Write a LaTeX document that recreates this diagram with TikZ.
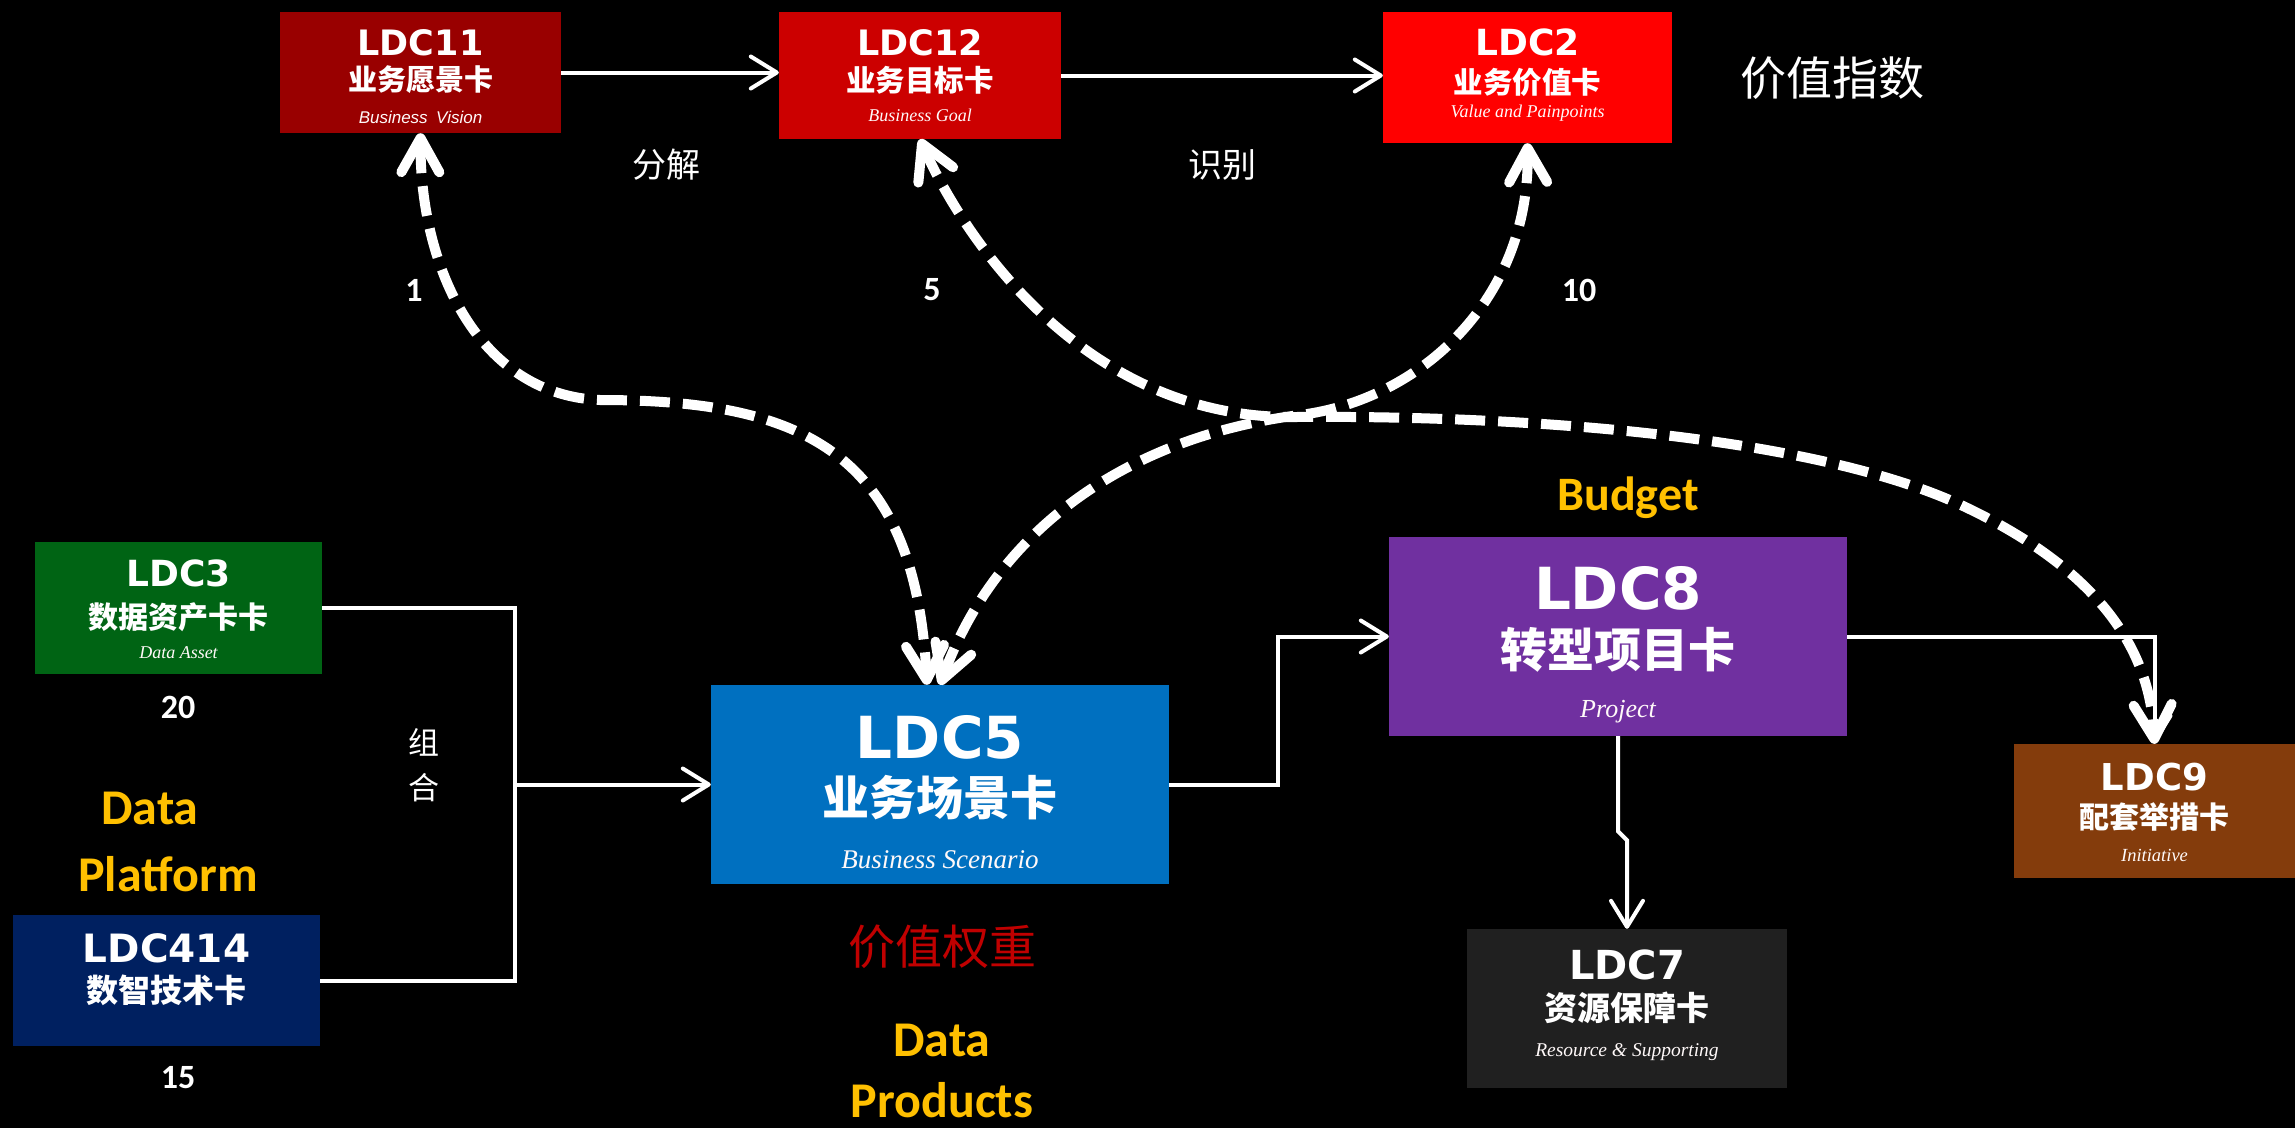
\documentclass[tikz,border=0pt]{standalone}
\usepackage{fontspec}
\usetikzlibrary{arrows.meta}
\newfontfamily\ttlf{DejaVu Sans}
\newfontfamily\cjkf{Noto Sans CJK SC}
\newfontfamily\serf{Liberation Serif}
\newfontfamily\sanf{Liberation Sans}
\newfontfamily\calf{Carlito}
\newcommand\fsz[1]{\fontsize{#1}{#1}\selectfont}
\definecolor{cEleven}{HTML}{990000}
\definecolor{cTwelve}{HTML}{CC0000}
\definecolor{cTwo}{HTML}{FF0000}
\definecolor{cThree}{HTML}{006414}
\definecolor{cFour}{HTML}{002060}
\definecolor{cFive}{HTML}{0070C0}
\definecolor{cEight}{HTML}{7030A0}
\definecolor{cSeven}{HTML}{202020}
\definecolor{cNine}{HTML}{843C0C}
\definecolor{gold}{HTML}{FFC000}
\definecolor{wred}{HTML}{C00000}
\begin{document}
\begin{tikzpicture}[x=1pt,y=-1pt,
  card/.style={draw=none, inner sep=0pt},
  txt/.style={text=white, inner sep=0pt, anchor=center},
  subt/.style={text=white!90!pink, inner sep=0pt, anchor=center},
  sarr/.style={draw=white, line width=4pt, -{Straight Barb[length=26pt,width=32pt,round]}},
  sline/.style={draw=white, line width=4pt},
  dcurve/.style={draw=white, line width=10pt, dash pattern=on 30pt off 13pt,
     {Straight Barb[length=34pt,width=38pt,round]}-{Straight Barb[length=34pt,width=38pt,round]}}
]
\useasboundingbox (0,0) rectangle (2295,1128);
\fill[black] (0,0) rectangle (2295,1128);

% ---- top row
\node[card, fill=cEleven, minimum width=281pt, minimum height=121pt] (ldc11) at (420.5,72.5) {};
\node[txt, font=\ttlf\bfseries\fsz{35}] (ldc11a) at (420.5,43) {LDC11};
\node[txt, font=\cjkf\bfseries\fsz{29}] (ldc11b) at (420.5,80) {业务愿景卡};
\node[subt, font=\sanf\itshape\fsz{17}] (ldc11c) at (420.5,117) {Business\enspace Vision};

\node[card, fill=cTwelve, minimum width=282pt, minimum height=127pt] (ldc12) at (920,75.5) {};
\node[txt, font=\ttlf\bfseries\fsz{35}] (ldc12a) at (920,43) {LDC12};
\node[txt, font=\cjkf\bfseries\fsz{29.5}] (ldc12b) at (920,80) {业务目标卡};
\node[subt, font=\serf\itshape\fsz{18}] (ldc12c) at (920,115) {Business Goal};

\node[card, fill=cTwo, minimum width=289pt, minimum height=131pt] (ldc2) at (1527.5,77.5) {};
\node[txt, font=\ttlf\bfseries\fsz{36}] (ldc2a) at (1527.5,42) {LDC2};
\node[txt, font=\cjkf\bfseries\fsz{29.5}] (ldc2b) at (1527.5,82) {业务价值卡};
\node[subt, font=\serf\itshape\fsz{18}] (ldc2c) at (1527.5,113) {Value and Painpoints};

\node[txt, font=\cjkf\fsz{46}] (vindex) at (1832,78) {价值指数};
\node[txt, font=\cjkf\fsz{34}] (fenjie) at (666,165) {分解};
\node[txt, font=\cjkf\fsz{34}] (shibie) at (1222,165) {识别};
\node[txt, font=\calf\bfseries\fsz{34}] (n1) at (414,290) {1};
\node[txt, font=\calf\bfseries\fsz{34}] (n5) at (932,290) {5};
\node[txt, font=\calf\bfseries\fsz{34}] (n10) at (1579,290) {10};

% ---- left column
\node[card, fill=cThree, minimum width=287pt, minimum height=132pt] (ldc3) at (178.5,608) {};
\node[txt, font=\ttlf\bfseries\fsz{36}] (ldc3a) at (178.5,573) {LDC3};
\node[txt, font=\cjkf\bfseries\fsz{30}] (ldc3b) at (178.5,617) {数据资产卡卡};
\node[subt, font=\serf\itshape\fsz{18}] (ldc3c) at (178.5,653) {Data Asset};
\node[txt, font=\calf\bfseries\fsz{34}] (n20) at (178,707) {20};

\node[txt, font=\calf\bfseries\fsz{50}, text=gold] (dpa) at (150,808) {Data};
\node[txt, font=\calf\bfseries\fsz{50}, text=gold] (dpb) at (168,874) {Platform};

\node[card, fill=cFour, minimum width=307pt, minimum height=131pt] (ldc414) at (166.5,980.5) {};
\node[txt, font=\ttlf\bfseries\fsz{39}] (ldc414a) at (166.5,948) {LDC414};
\node[txt, font=\cjkf\bfseries\fsz{32}] (ldc414b) at (166.5,990) {数智技术卡};
\node[txt, font=\calf\bfseries\fsz{34}] (n15) at (178,1078) {15};

\node[txt, font=\cjkf\fsz{31}, align=center] (zuhe) at (424,765) {组\\[14pt]合};

% ---- centre
\node[card, fill=cFive, minimum width=458pt, minimum height=199pt] (ldc5) at (940,784.5) {};
\node[txt, font=\ttlf\bfseries\fsz{58}] (ldc5a) at (940,737) {LDC5};
\node[txt, font=\cjkf\bfseries\fsz{47}] (ldc5b) at (940,798) {业务场景卡};
\node[subt, font=\serf\itshape\fsz{27}] (ldc5c) at (940,860) {Business Scenario};
\node[txt, font=\cjkf\fsz{47}, text=wred] (weight) at (942,947) {价值权重};
\node[txt, font=\calf\bfseries\fsz{50}, text=gold] (dpc) at (942,1040) {Data};
\node[txt, font=\calf\bfseries\fsz{50}, text=gold] (dpd) at (942,1100) {Products};

% ---- right
\node[txt, font=\calf\bfseries\fsz{48}, text=gold] (budget) at (1628,498) {Budget};
\node[card, fill=cEight, minimum width=458pt, minimum height=199pt] (ldc8) at (1618,636.5) {};
\node[txt, font=\ttlf\bfseries\fsz{58}] (ldc8a) at (1618,588) {LDC8};
\node[txt, font=\cjkf\bfseries\fsz{47}] (ldc8b) at (1618,650) {转型项目卡};
\node[subt, font=\serf\itshape\fsz{26}] (ldc8c) at (1618,712) {Project};

\node[card, fill=cSeven, minimum width=320pt, minimum height=159pt] (ldc7) at (1627,1008.5) {};
\node[txt, font=\ttlf\bfseries\fsz{40}] (ldc7a) at (1627,965) {LDC7};
\node[txt, font=\cjkf\bfseries\fsz{33}] (ldc7b) at (1627,1008) {资源保障卡};
\node[subt, font=\serf\itshape\fsz{19.5}] (ldc7c) at (1627,1052) {Resource \& Supporting};

\node[card, fill=cNine, minimum width=281pt, minimum height=134pt] (ldc9) at (2154.5,811) {};
\node[txt, font=\ttlf\bfseries\fsz{37}] (ldc9a) at (2154.5,777) {LDC9};
\node[txt, font=\cjkf\bfseries\fsz{30}] (ldc9b) at (2154.5,817) {配套举措卡};
\node[subt, font=\serf\itshape\fsz{18.5}] (ldc9c) at (2154.5,855) {Initiative};

% ---- solid connectors
\draw[sarr] (ldc11.east) -- (ldc11.east -| ldc12.west);
\draw[sarr] (ldc12.east) -- (ldc12.east -| ldc2.west);
\coordinate (join) at (515,784.5);
\draw[sline] (ldc3.east) -| (join);
\draw[sline] (ldc414.east) -| (join);
\draw[sarr] (join) -- (ldc5.west);
\draw[sarr] (ldc5.east) -- ++(109,0) |- (ldc8.west);
\draw[sarr] (ldc8.east) -| (ldc9.north);
\draw[sarr] (ldc8.south) -- ++(0,95) -- ++(9,9) -- (ldc7.north);

% ---- dashed curves
\draw[dcurve] (ldc11.south) .. controls (420,270) and (480,395) .. (600,400)
   .. controls (800,400) and (915,450) .. ([xshift=-13pt]ldc5.north);
\draw[dcurve] (ldc2.south) .. controls (1530,300) and (1420,400) .. (1300,415)
   .. controls (1140,435) and (1000,520) .. (ldc5.north);
\draw[dcurve] (ldc12.south) .. controls (960,230) and (1080,420) .. (1296,417)
   .. controls (1550,415) and (1820,440) .. (1961,505)
   .. controls (2100,570) and (2150,650) .. (ldc9.north);
\end{tikzpicture}
\end{document}
